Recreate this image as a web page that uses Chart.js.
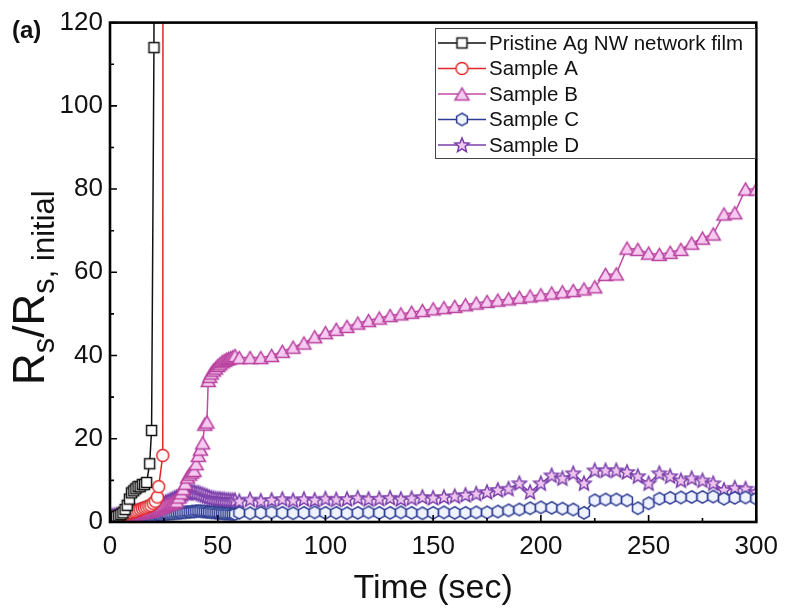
<!DOCTYPE html>
<html><head><meta charset="utf-8">
<script src="https://cdn.jsdelivr.net/npm/chart.js@4/dist/chart.umd.min.js"></script>
<style>html,body{margin:0;padding:0;background:#fff}canvas{display:block}</style>
</head><body>
<canvas id="c" width="787" height="614"></canvas>
<script>
// ---------- data ----------
const xTicks = [0, 50, 100, 150, 200, 250, 300];
const yTicks = [0, 20, 40, 60, 80, 100, 120];
const xMinorTicks = [25, 75, 125, 175, 225, 275];
const yMinorTicks = [10, 30, 50, 70, 90, 110];
const seriesNames = ["Pristine Ag NW network film", "Sample A", "Sample B", "Sample C", "Sample D"];

const pristineTime = [0,1,2,3,4,5,6,7,8,9,10,11,12,13,14,15,16,17,18.4,19.3,20.4,21];
const pristineVal  = [1,1,1.2,1.3,1.5,1.8,2.2,3,4,5.5,7,7.5,8,8.5,8.5,9,9,9.5,14,22,114,1000];

const sampleATime = [0,1,2,3,4,5,6,7,8,9,10,11,12,13,14,15,16,17,18,19,20,21,22,22.6,24.5,25.2];
const sampleAVal  = [0.8,1,1,1.2,1.3,1.5,1.6,1.8,2,2.2,2.3,2.5,2.6,2.8,3,3.2,3.4,3.6,3.8,4,4.5,5,6,8.5,16,1000];

const timeEarly = [0,1,2,3,4,5,6,7,8,9,10,11,12,13,14,15,16,17,18,19,20,21,22,23,24,25,26,27,28,29,
  30,31,32,33,34,35,36,37,38,39,40,41,42,43,44,45,46,47,48,49,50,51,52,53,54,55,56,57,58];
const timeLate = [60,65,70,75,80,85,90,95,100,105,110,115,120,125,130,135,140,145,150,155,160,165,170,
  175,180,185,190,195,200,205,210,215,220,225,230,235,240,245,250,255,260,265,270,275,280,285,290,295,300];

const sampleBTimeEarly = [0,1,2,3,4,5,6,7,8,9,10,11,12,13,14,15,16,17,18,19,20,21,22,23,24,25,26,27,28,29,30,31,
  32,33,34,35,36,37,38,39,40,41,42,43,44,45,45.6,46.3,47,48,49,50,51,52,53,54,55,56,57,58];
const sampleBValEarly = [1,1,1.1,1.2,1.2,1.3,1.4,1.5,1.6,1.7,1.8,1.9,2,2.1,2.2,2.3,2.4,2.5,2.6,2.7,2.8,3,3.2,3.4,3.6,3.8,4,4.2,4.4,4.6,4.8,5,
  6,7,8,9.3,10.8,11.5,12,12.4,14,16,17.5,19,23.5,24,34,35,35.8,36.5,37,37.6,38,38.5,38.8,39.1,39.3,39.5,39.7,40];
const sampleBValLate = [39.5,39.5,39.5,40,41,42,43,44.5,45.5,46.3,47,47.8,48.4,49,49.6,50,50.4,50.8,51.2,51.5,51.8,52.2,52.6,
  53,53.3,53.6,54,54.3,54.6,55,55.3,55.6,56,56.5,59.5,59.6,65.8,65.5,64.6,64.3,64.8,65.5,67,68.2,69.2,74,74.3,80,80];

const sampleCValEarly = [1,1,1,1,1,1.1,1.1,1.1,1.2,1.2,1.2,1.3,1.3,1.3,1.4,1.4,1.4,1.5,1.5,1.5,
  1.6,1.6,1.7,1.7,1.8,1.8,1.9,1.9,2,2,2.1,2.1,2.2,2.2,2.3,2.3,2.4,2.4,2.5,2.5,
  2.6,2.6,2.6,2.5,2.5,2.4,2.4,2.3,2.3,2.2,2.2,2.1,2.1,2,2,2,1.9,1.9,1.9];
const sampleCValLate = [2.2,2.1,2.2,2.3,2.2,2.1,2.2,2.3,2.2,2.2,2.1,2.2,2.3,2.2,2.2,2.3,2.2,2.1,2.2,2.3,2.2,2.2,2.3,
  2.3,2.5,2.8,3,3.3,3.5,3.4,3.2,3,2.2,5.2,5.4,5.4,5.2,3.3,4.5,5.6,5.8,5.9,6,6,6.1,5.6,5.8,5.9,5.6];

const sampleDValEarly = [1.5,1.5,1.6,1.7,1.8,1.9,2,2.1,2.2,2.3,2.4,2.5,2.6,2.7,2.8,2.9,3,3.1,3.2,3.3,
  3.5,3.6,3.8,4,4.2,4.5,4.8,5,5.3,5.5,5.8,6,6.2,6.5,6.7,7,7,7.2,7.3,7.2,
  7,7,6.8,6.6,6.4,6.2,6,5.8,5.7,5.6,5.5,5.5,5.4,5.4,5.3,5.3,5.2,5.2,5.2];
const sampleDValLate = [5,5.4,5.1,5.3,5.5,5.2,5.5,5.3,5.6,5.4,5.5,5.8,5.5,5.6,5.8,5.5,5.7,6,5.8,6,6.2,6.5,6.8,
  7.2,7.7,8,9.3,7.2,9.3,11.2,10.5,11.7,9.3,12.4,12.4,12.4,12,11,9.3,11.7,11,10,10.5,10,9.3,7.7,8.2,8,7.2];

// ---------- helpers ----------
function pts(t, v) { return t.map((x, i) => ({ x: x, y: v[i] })); }

function marker(shape, size, stroke, fill, lw) {
  const s = Math.ceil(size + lw * 2 + 2);
  const c = document.createElement('canvas');
  c.width = s; c.height = s;
  const g = c.getContext('2d');
  const m = s / 2, r = size / 2;
  g.lineWidth = lw; g.strokeStyle = stroke; g.fillStyle = fill; g.lineJoin = 'miter';
  g.beginPath();
  if (shape === 'square') {
    g.rect(m - r, m - r, size, size);
  } else if (shape === 'circle') {
    g.arc(m, m, r, 0, Math.PI * 2);
  } else if (shape === 'triangle') {
    const h = size * 0.86;
    g.moveTo(m, m - h / 2); g.lineTo(m + r, m + h / 2); g.lineTo(m - r, m + h / 2);
  } else if (shape === 'hexagon') {
    for (let k = 0; k < 6; k++) {
      const a = -Math.PI / 2 + k * Math.PI / 3;
      const px = m + r * Math.cos(a), py = m + r * Math.sin(a);
      k ? g.lineTo(px, py) : g.moveTo(px, py);
    }
  } else if (shape === 'star') {
    for (let k = 0; k < 10; k++) {
      const a = -Math.PI / 2 + k * Math.PI / 5;
      const rr = k % 2 ? r * 0.45 : r;
      const px = m + rr * Math.cos(a), py = m + rr * Math.sin(a) + 0.5;
      k ? g.lineTo(px, py) : g.moveTo(px, py);
    }
  }
  g.closePath(); g.fill(); g.stroke();
  return c;
}

const colBlack = '#111111', colRed = '#e0262a', colB = '#b8409e', colC = '#2c3a92', colD = '#7a3eaa';
const mk = [
  marker('square', 10, colBlack, '#ffffff', 1.5),
  marker('circle', 12, colRed, '#ffffff', 1.5),
  marker('triangle', 14, colB, '#f7cbf1', 1.5),
  marker('hexagon', 12.5, colC, '#eef3ff', 1.5),
  marker('star', 15, colD, '#efc6ef', 1.5)
];
const lineCols = [colBlack, colRed, '#c04aa6', colC, colD];

function ds(i, data) {
  return {
    label: seriesNames[i], data: data, showLine: true, borderColor: lineCols[i], borderWidth: 1.5,
    pointStyle: mk[i], pointRadius: 6, tension: 0, fill: false
  };
}

const FONT = "'Liberation Sans', Arial, sans-serif";

const decor = {
  id: 'decor',
  afterDatasetsDraw(chart) {
    const { ctx, chartArea: a, scales: { x, y } } = chart;
    ctx.save();
    ctx.strokeStyle = '#000';
    ctx.lineWidth = 1.6;
    ctx.beginPath();
    yTicks.forEach(v => { const p = y.getPixelForValue(v); ctx.moveTo(a.left, p); ctx.lineTo(a.left + 7, p); });
    yMinorTicks.forEach(v => { const p = y.getPixelForValue(v); ctx.moveTo(a.left, p); ctx.lineTo(a.left + 4, p); });
    xTicks.forEach(v => { const p = x.getPixelForValue(v); ctx.moveTo(p, a.bottom); ctx.lineTo(p, a.bottom - 7); });
    xMinorTicks.forEach(v => { const p = x.getPixelForValue(v); ctx.moveTo(p, a.bottom); ctx.lineTo(p, a.bottom - 4); });
    ctx.stroke();
    ctx.lineWidth = 2.6;
    ctx.strokeRect(a.left, a.top, a.right - a.left, a.bottom - a.top);

    // legend
    const lx = 435, ly = 28, lw = 320, lh = 130;
    ctx.fillStyle = '#fff';
    ctx.fillRect(lx, ly, lw, lh);
    ctx.lineWidth = 1;
    ctx.strokeStyle = '#444';
    ctx.strokeRect(lx + 0.5, ly + 0.5, lw, lh);
    ctx.font = '20.5px ' + FONT;
    ctx.textBaseline = 'middle';
    ctx.textAlign = 'left';
    seriesNames.forEach((name, i) => {
      const cy = ly + 15 + i * 25.5;
      ctx.strokeStyle = lineCols[i];
      ctx.lineWidth = 1.5;
      ctx.beginPath(); ctx.moveTo(lx + 3, cy); ctx.lineTo(lx + 51, cy); ctx.stroke();
      const im = mk[i];
      ctx.drawImage(im, lx + 27 - im.width / 2, cy - im.height / 2);
      ctx.fillStyle = '#111';
      ctx.fillText(name, lx + 54, cy + 1);
    });

    // x title
    ctx.fillStyle = '#111';
    ctx.font = '34px ' + FONT;
    ctx.textAlign = 'center';
    ctx.textBaseline = 'alphabetic';
    ctx.fillText('Time (sec)', (a.left + a.right) / 2, 598);

    // (a)
    ctx.font = 'bold 24px ' + FONT;
    ctx.textAlign = 'left';
    ctx.fillText('(a)', 12, 38);

    // y title with subscripts
    ctx.save();
    ctx.translate(44, 385);
    ctx.rotate(-Math.PI / 2);
    ctx.textAlign = 'left';
    ctx.textBaseline = 'alphabetic';
    const big = '44px ' + FONT, small = '31px ' + FONT;
    const parts = [['R', big, 0], ['s', small, 10], ['/', big, 0], ['R', big, 0], ['s, initial', small, 10]];
    let cx = 0;
    parts.forEach(([t, f, dy]) => { ctx.font = f; ctx.fillText(t, cx, dy); cx += ctx.measureText(t).width; });
    ctx.restore();
    ctx.restore();
  }
};

const chart = new Chart(document.getElementById('c'), {
  type: 'scatter',
  data: {
    datasets: [
      ds(0, pts(pristineTime, pristineVal)),
      ds(1, pts(sampleATime, sampleAVal)),
      ds(2, pts(sampleBTimeEarly.concat(timeLate), sampleBValEarly.concat(sampleBValLate))),
      ds(3, pts(timeEarly.concat(timeLate), sampleCValEarly.concat(sampleCValLate))),
      ds(4, pts(timeEarly.concat(timeLate), sampleDValEarly.concat(sampleDValLate)))
    ]
  },
  options: {
    responsive: false, animation: false, devicePixelRatio: 1,
    layout: { padding: { left: 0, right: 28, top: 21, bottom: 0 } },
    plugins: { legend: { display: false }, tooltip: { enabled: false } },
    scales: {
      x: {
        type: 'linear', min: 0, max: 300,
        afterFit: s => { s.height = 92; },
        afterBuildTicks: s => { s.ticks = xTicks.map(v => ({ value: v })); },
        grid: { display: false, drawTicks: false }, border: { display: false },
        ticks: { font: { family: FONT, size: 26 }, color: '#111', padding: 9, maxRotation: 0 }
      },
      y: {
        type: 'linear', min: 0, max: 120,
        afterFit: s => { s.width = 110; },
        afterBuildTicks: s => { s.ticks = yTicks.map(v => ({ value: v })); },
        grid: { display: false, drawTicks: false }, border: { display: false },
        ticks: { font: { family: FONT, size: 26 }, color: '#111', padding: 7 }
      }
    }
  },
  plugins: [decor]
});
</script>
</body></html>
